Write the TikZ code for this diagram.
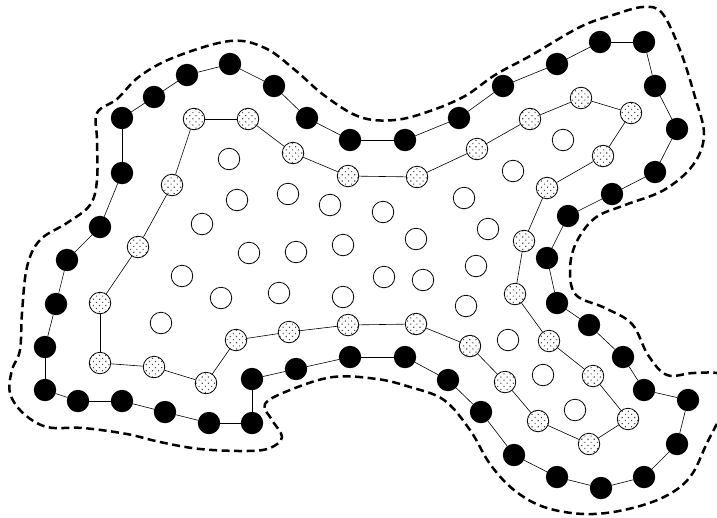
\documentclass[tikz,border=0pt]{standalone}
\usetikzlibrary{patterns.meta}
\tikzset{
  site/.style={circle, draw=black, line width=0.8pt, minimum size=21.5pt, inner sep=0pt},
  solid site/.style={site, fill=black},
  shade site/.style={site, preaction={fill=white}, pattern={Dots[distance=4.4pt, angle=45, radius=0.8pt]}, pattern color=black!70},
  link/.style={line width=0.6pt},
  hull/.style={line width=2.5pt, dash pattern=on 8pt off 4.5pt}
}
\begin{document}
\begin{tikzpicture}[x=1pt, y=-1pt]
  \useasboundingbox (0,0) rectangle (717,517);
  % dashed outline
  \draw[hull] plot[smooth cycle, tension=0.6] coordinates {
    (97,113) (117,99) (140,76) (175,57) (230,41) (265,48) (295,70) (325,96) (360,117)
    (395,120) (430,111) (465,96) (495,75) (530,56) (580,27) (613,15) (643,7) (662,13)
    (680,50) (695,97) (704,135) (693,165) (664,190) (625,205) (595,218) (576,243)
    (570,270) (576,295) (605,308) (632,324) (648,355) (667,375) (694,373) (722,375)
    (728,398) (707,443) (690,477) (664,497) (624,510) (584,514) (544,507) (514,490)
    (490,464) (470,430) (444,400) (410,387) (377,379) (333,377) (290,390) (265,404)
    (272,420) (282,437) (270,448) (247,451) (200,449) (160,442) (127,434) (83,428)
    (47,427) (23,413) (10,393) (12,370) (20,350) (22,313) (27,267) (40,240) (67,223)
    (90,205) (97,180) (97,140)};
  % outer ring
  \foreach \p [count=\i] in {(122,118),(154,97),(187,75),(230,64),(274,86),(307,118),
    (350,140),(405,140),(459,118),(503,86),(557,64),(600,42),(644,42),(655,86),(677,129),
    (655,172),(612,194),(568,216),(547,258),(557,303),(589,325),(623,357),(644,390),
    (688,400),(677,444),(644,477),(601,488),(557,477),(514,455),(481,412),(448,380),
    (405,357),(350,357),(296,369),(252,379),(252,423),(209,423),(165,412),(122,401),
    (78,401),(45,390),(45,347),(56,304),(67,260),(100,227),(122,173)}
    \node[solid site] (b\i) at \p {};
  \foreach \i [remember=\i as \k (initially 46)] in {1,...,46} \draw[link] (b\k) -- (b\i);
  % inner ring
  \foreach \p [count=\i] in {(194,119),(248,119),(293,153),(348,176),(417,177),(477,149),
    (530,119),(581,98),(631,113),(603,156),(547,188),(524,241),(515,294),(549,341),
    (593,376),(628,419),(589,444),(538,421),(505,382),(470,346),(416,324),(348,325),
    (289,332),(236,340),(206,383),(154,367),(100,363),(100,303),(138,247),(172,185)}
    \node[shade site] (d\i) at \p {};
  \foreach \i [remember=\i as \k (initially 30)] in {1,...,30} \draw[link] (d\k) -- (d\i);
  % interior sites
  \foreach \p [count=\i] in {(229,159),(237,200),(288,194),(330,205),(202,224),(249,253),
    (296,252),(343,245),(182,276),(221,298),(279,293),(343,297),(161,323),(563,140),
    (513,171),(464,198),(383,212),(488,229),(416,239),(476,266),(384,277),(423,280),
    (466,306),(508,340),(543,375),(575,410)}
    \node[site] (w\i) at \p {};
\end{tikzpicture}
\end{document}
